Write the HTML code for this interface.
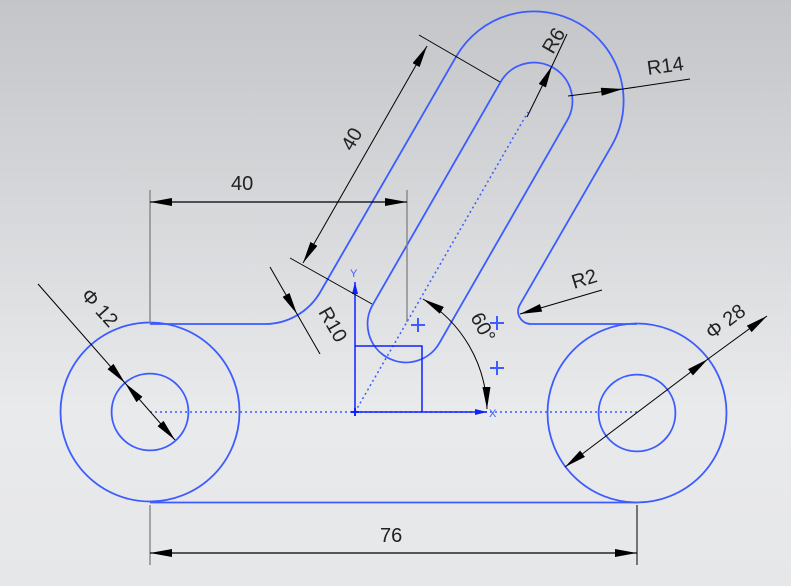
<!DOCTYPE html>
<html><head><meta charset="utf-8"><style>
html,body{margin:0;padding:0}
body{width:791px;height:586px;overflow:hidden;background:linear-gradient(#c3c5c8,#e9eaec 70%,#e6e7e9)}
svg{display:block}
text{font-family:"Liberation Sans",sans-serif;font-size:20px;fill:#222;stroke:none}
</style></head><body>
<svg width="791" height="586" viewBox="0 0 791 586" xmlns="http://www.w3.org/2000/svg">
<defs>
<marker id="a" viewBox="0 0 22 8" refX="22" refY="4" markerWidth="22" markerHeight="8" markerUnits="userSpaceOnUse" orient="auto-start-reverse">
<path d="M0,0 L22,4 L0,8 Z" fill="#000"/></marker>
<marker id="b" viewBox="0 0 12 6" refX="12" refY="3" markerWidth="12" markerHeight="6" markerUnits="userSpaceOnUse" orient="auto">
<path d="M0,0 L12,3 L0,6 Z" fill="#1020ff"/></marker>
</defs>
<g stroke="#3c5cff" stroke-width="1.8" fill="none">
<circle cx="150" cy="412" r="89.5"/>
<circle cx="150" cy="412" r="38.4"/>
<circle cx="637" cy="413" r="89.5"/>
<circle cx="637" cy="413" r="38.4"/>
<line x1="150" y1="502.5" x2="637" y2="502.5"/>
<path d="M150,324 L264.9,324 A64 64 0 0 0 320.3,292 L456.4,56.2 A89.6 89.6 0 0 1 611.6,145.8 L519.8,304.8 A12.8 12.8 0 0 0 530.9,324 L637,324"/>
<path d="M372.7,304.8 L500.7,81.8 A38.4 38.4 0 0 1 567.3,120.2 L439.3,343.2 A38.4 38.4 0 0 1 372.7,304.8 Z"/>
</g>
<g stroke="#3c5cff" stroke-width="1.5" fill="none" stroke-dasharray="2 3">
<line x1="150" y1="412" x2="637" y2="412"/>
<line x1="355" y1="412" x2="528" y2="112"/>
</g>
<g stroke="#1020ff" stroke-width="1.5" fill="none">
<line x1="355" y1="412" x2="355" y2="282" marker-end="url(#b)"/>
<line x1="355" y1="412" x2="487" y2="412" marker-end="url(#b)"/>
<polyline points="355,346 422,346 422,412"/>
<path d="M351,412h8M355,408v8" stroke-width="2"/>
</g>
<g stroke="#3c5cff" stroke-width="2">
<path d="M411,325h14M418,318v14M490,323h14M497,316v14M490,368h14M497,361v14"/>
</g>
<text x="350" y="277" style="font-size:11px;fill:#3c5cff">Y</text>
<text x="489" y="417" style="font-size:11px;fill:#3c5cff">X</text>
<g stroke="#808080" stroke-width="1.3">
<line x1="150" y1="190" x2="150" y2="324"/>
<line x1="407" y1="190" x2="407" y2="322"/>
<line x1="150" y1="505" x2="150" y2="565"/>
</g>
<g stroke="#000" stroke-width="1" fill="none">
<line x1="637" y1="505" x2="637" y2="565"/>
<line x1="150" y1="202" x2="407" y2="202" marker-start="url(#a)" marker-end="url(#a)" stroke-width="1.3"/>
<line x1="150" y1="553" x2="637" y2="553" marker-start="url(#a)" marker-end="url(#a)" stroke-width="1.3"/>
<line x1="419" y1="35" x2="500" y2="82"/>
<line x1="290" y1="258" x2="372" y2="304"/>
<line x1="303" y1="263" x2="427" y2="46" marker-start="url(#a)" marker-end="url(#a)"/>
<line x1="270" y1="267" x2="297" y2="314" marker-end="url(#a)"/>
<line x1="297" y1="314" x2="320" y2="354"/>
<line x1="38" y1="284" x2="125" y2="383" marker-end="url(#a)"/>
<line x1="125" y1="383" x2="175" y2="440" marker-start="url(#a)" marker-end="url(#a)"/>
<line x1="527" y1="117" x2="552" y2="66" marker-end="url(#a)"/>
<line x1="552" y1="66" x2="567" y2="34"/>
<line x1="568" y1="96" x2="623" y2="89" marker-end="url(#a)"/>
<line x1="623" y1="89" x2="690" y2="79"/>
<line x1="602" y1="290" x2="520" y2="314" marker-end="url(#a)"/>
<line x1="767" y1="316" x2="708" y2="359" marker-start="url(#a)"/>
<line x1="708" y1="359" x2="565" y2="467" marker-start="url(#a)" marker-end="url(#a)"/>
<path d="M423,299 A132 132 0 0 1 487,409" marker-start="url(#a)" marker-end="url(#a)"/>
</g>
<text x="231" y="190">40</text>
<text x="380" y="542">76</text>
<text transform="translate(352,152) rotate(-60)">40</text>
<text transform="translate(318,312) rotate(60)">R10</text>
<text transform="translate(80,296) rotate(48)">Φ 12</text>
<text transform="translate(553,55) rotate(-60)">R6</text>
<text transform="translate(648,75) rotate(-8)">R14</text>
<text transform="translate(574,289) rotate(-17)">R2</text>
<text transform="translate(712,340) rotate(-37)">Φ 28</text>
<text transform="translate(470,317) rotate(62)">60°</text>
</svg>
</body></html>
